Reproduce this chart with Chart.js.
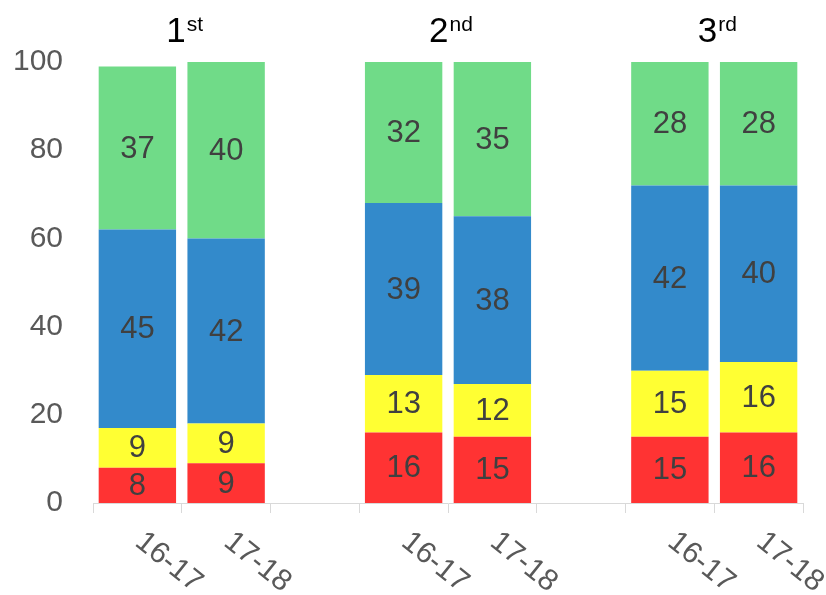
<!DOCTYPE html>
<html>
<head>
<meta charset="utf-8">
<script src="https://cdn.jsdelivr.net/npm/chart.js@4.4.0/dist/chart.umd.min.js"></script>
<style>
  html, body { margin: 0; padding: 0; background: #fff; }
  canvas { display: block; }
</style>
</head>
<body>
<canvas id="myChart" width="826" height="595"></canvas>
<script>
// chart data
const labels = ['16-17', '17-18', '', '16-17', '17-18', '', '16-17', '17-18'];
const red = [8, 9, null, 16, 15, null, 15, 16];
const yellow = [9, 9, null, 13, 12, null, 15, 16];
const blue = [45, 42, null, 39, 38, null, 42, 40];
const green = [37, 40, null, 32, 35, null, 28, 28];
const yTicks = [0, 20, 40, 60, 80, 100];

const groupNames = ['1', '2', '3'];
const groupSups = ['st', 'nd', 'rd'];
const groupBars = [[0, 1], [3, 4], [6, 7]];

const FONT = '"Liberation Sans", Arial, sans-serif';

// value labels in the middle of each segment
const valueLabels = {
    id: 'valueLabels',
    afterDatasetsDraw(chart) {
        const ctx = chart.ctx;
        ctx.save();
        ctx.font = '31px ' + FONT;
        ctx.fillStyle = '#404040';
        ctx.textAlign = 'center';
        ctx.textBaseline = 'middle';
        chart.data.datasets.forEach((ds, di) => {
            const meta = chart.getDatasetMeta(di);
            meta.data.forEach((bar, i) => {
                const v = ds.data[i];
                if (v == null) return;
                const p = bar.getCenterPoint();
                ctx.fillText(String(v), p.x, p.y + 1);
            });
        });
        ctx.restore();
    }
};

// rotated category labels and group titles
const axisText = {
    id: 'axisText',
    afterDraw(chart) {
        const ctx = chart.ctx;
        const xs = chart.scales.x;
        ctx.save();
        ctx.font = '30px ' + FONT;
        ctx.fillStyle = '#595959';
        ctx.textAlign = 'left';
        ctx.textBaseline = 'middle';
        labels.forEach((lab, i) => {
            if (!lab) return;
            const x = xs.getPixelForValue(i) + 1.5;
            ctx.save();
            ctx.translate(x, 538);
            ctx.rotate(39 * Math.PI / 180);
            ctx.fillText(lab, 0, 0);
            ctx.restore();
        });

        ctx.fillStyle = '#000';
        ctx.textBaseline = 'alphabetic';
        groupBars.forEach((bars, g) => {
            const cx = (xs.getPixelForValue(bars[0]) + xs.getPixelForValue(bars[1])) / 2 + 3;
            ctx.font = '35px ' + FONT;
            const w1 = ctx.measureText(groupNames[g]).width;
            ctx.font = '21px ' + FONT;
            const w2 = ctx.measureText(groupSups[g]).width;
            const start = cx - (w1 + w2 + 1) / 2;
            ctx.font = '35px ' + FONT;
            ctx.fillText(groupNames[g], start, 42);
            ctx.font = '21px ' + FONT;
            ctx.fillText(groupSups[g], start + w1 + 1, 31);
        });
        ctx.restore();
    }
};

const chart = new Chart(document.getElementById('myChart'), {
    type: 'bar',
    data: {
        labels: labels,
        datasets: [
            { data: red, backgroundColor: '#FF3333' },
            { data: yellow, backgroundColor: '#FFFF33' },
            { data: blue, backgroundColor: '#338ACB' },
            { data: green, backgroundColor: '#70DB88' }
        ]
    },
    options: {
        responsive: false,
        animation: false,
        events: [],
        layout: { padding: { top: 62, right: 23, left: 0, bottom: 0 } },
        datasets: {
            bar: { categoryPercentage: 1, barPercentage: 0.872, borderWidth: 0 }
        },
        plugins: {
            legend: { display: false },
            tooltip: { enabled: false }
        },
        scales: {
            x: {
                stacked: true,
                ticks: { display: false },
                grid: {
                    display: true,
                    offset: true,
                    drawOnChartArea: false,
                    drawTicks: true,
                    tickLength: 10,
                    color: '#D9D9D9',
                    lineWidth: 1
                },
                border: { display: true, color: '#D9D9D9', width: 1 },
                afterFit: s => { s.height = 92; }
            },
            y: {
                stacked: true,
                min: 0,
                max: 100,
                afterBuildTicks: s => { s.ticks = yTicks.map(v => ({ value: v })); },
                ticks: {
                    padding: 30,
                    color: '#595959',
                    font: { family: FONT, size: 30 }
                },
                grid: { display: false, drawTicks: false },
                border: { display: false },
                afterFit: s => { s.width = 93; }
            }
        }
    },
    plugins: [valueLabels, axisText]
});
</script>
</body>
</html>
